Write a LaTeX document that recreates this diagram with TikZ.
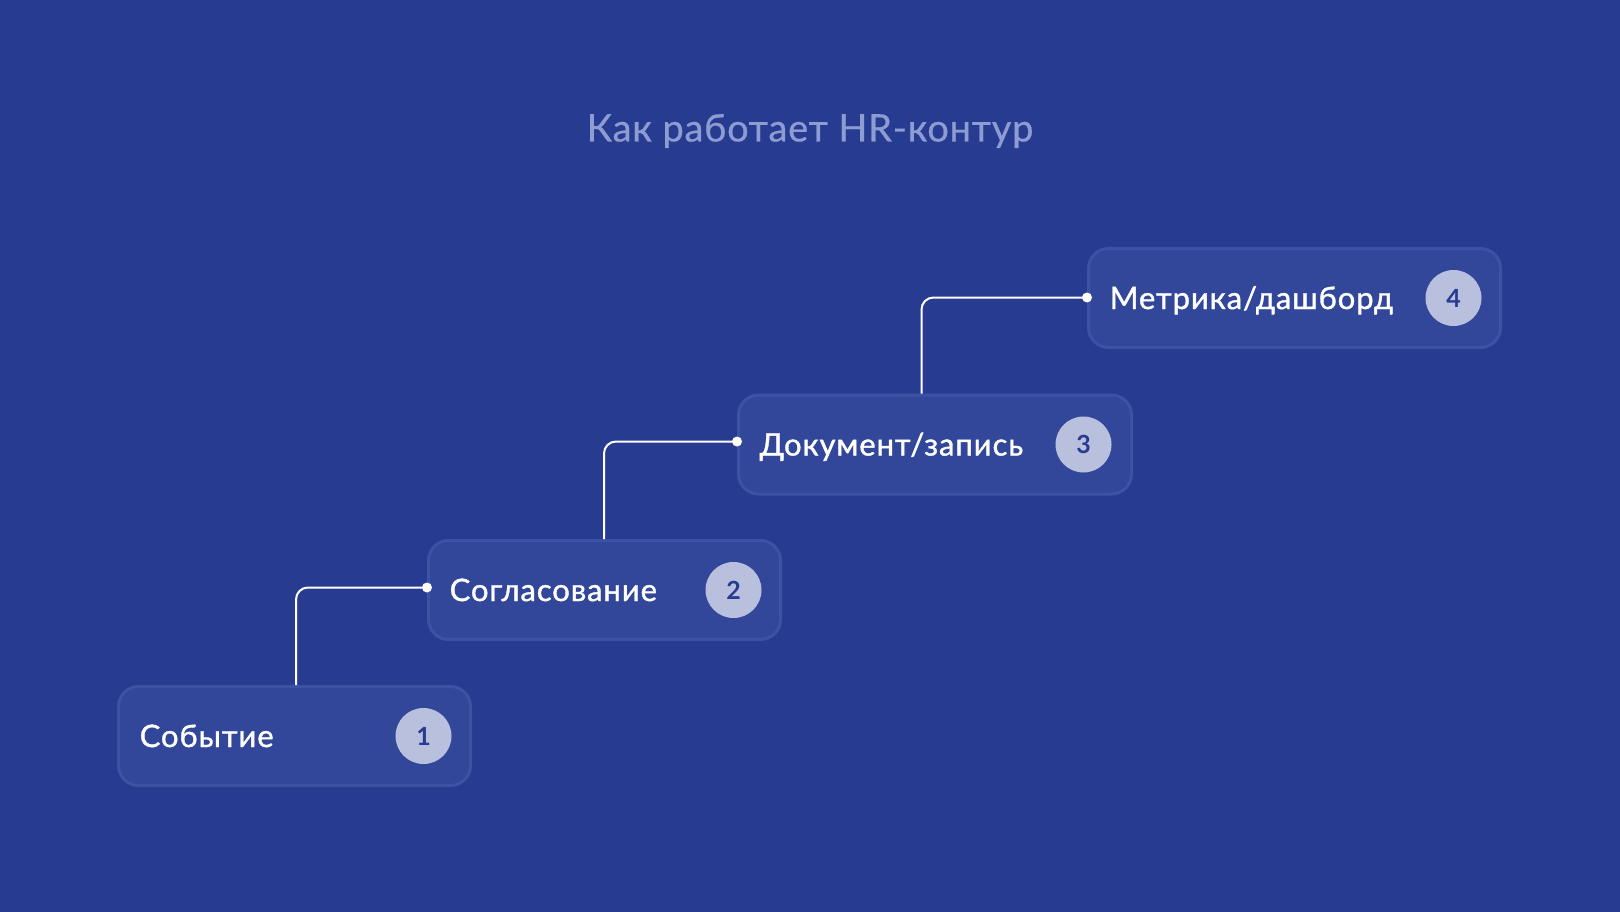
\documentclass[tikz,border=0pt]{standalone}
\usepackage{fontspec}
\setmainfont{Lato}
\newfontfamily\lblfont[FakeBold=1.2, LetterSpace=3]{Lato}
\newfontfamily\ttlfont[FakeBold=0.6, LetterSpace=2]{Lato}
\usetikzlibrary{calc}
\definecolor{bg}{HTML}{273C91}
\definecolor{boxfill}{HTML}{32479A}
\definecolor{boxline}{HTML}{3C52A3}
\definecolor{circ}{HTML}{B8C0DE}
\definecolor{titlec}{HTML}{8D9CD2}
\begin{document}
\begin{tikzpicture}[x=1pt,y=-1pt,
  stepbox/.style={draw=boxline, line width=3pt, fill=boxfill, rounded corners=20pt,
    minimum height=99pt, inner sep=0pt},
  lbl/.style={text=white, font=\lblfont\fontsize{31}{36}\selectfont, anchor=base west, inner sep=0pt},
  num/.style={circle, fill=circ, minimum size=56pt, inner sep=0pt, text=bg,
    font=\bfseries\fontsize{25}{30}\selectfont},
  conn/.style={draw=white, line width=2pt, rounded corners=12pt},
  dotc/.style={circle, fill=white, minimum size=10pt, inner sep=0pt},
  titlestyle/.style={text=titlec, font=\ttlfont\fontsize{38}{44}\selectfont, inner sep=0pt}]
\fill[bg] (0,0) rectangle (1620,912);
\useasboundingbox (0,0) rectangle (1620,912);
\node[titlestyle] (title) at (810,131) {Как работает HR-контур};
% boxes
\node[stepbox, minimum width=352pt] (b1) at (294.5,736) {};
\node[stepbox, minimum width=352pt] (b2) at (604.5,590) {};
\node[stepbox, minimum width=393pt] (b3) at (935,444.5) {};
\node[stepbox, minimum width=412pt] (b4) at (1294.5,298) {};
% labels
\node[lbl] (t1) at ($(b1.west)+(22.5,11)$) {Событие};
\node[lbl] (t2) at ($(b2.west)+(22.5,11)$) {Согласование};
\node[lbl] (t3) at ($(b3.west)+(22.5,11)$) {Документ/запись};
\node[lbl] (t4) at ($(b4.west)+(22.5,11)$) {Метрика/дашборд};
% numbers
\node[num] (n1) at ($(b1.east)+(-48.5,0)$) {1};
\node[num] (n2) at ($(b2.east)+(-48.5,0)$) {2};
\node[num] (n3) at ($(b3.east)+(-49.5,0)$) {3};
\node[num] (n4) at ($(b4.east)+(-48.5,0)$) {4};
% connectors
\coordinate (v1) at (296,0);
\coordinate (v2) at (604,0);
\coordinate (v3) at (921.5,0);
\coordinate (e2) at ($(b2.west)+(0,-2.5)$);
\coordinate (e3) at ($(b3.west)+(0,-3)$);
\coordinate (e4) at ($(b4.west)+(0,-0.5)$);
\draw[conn] (b1.north -| v1) |- (e2);
\draw[conn] (b2.north -| v2) |- (e3);
\draw[conn] (b3.north -| v3) |- (e4);
\node[dotc] (d2) at (e2) {};
\node[dotc] (d3) at (e3) {};
\node[dotc] (d4) at (e4) {};
\end{tikzpicture}
\end{document}
